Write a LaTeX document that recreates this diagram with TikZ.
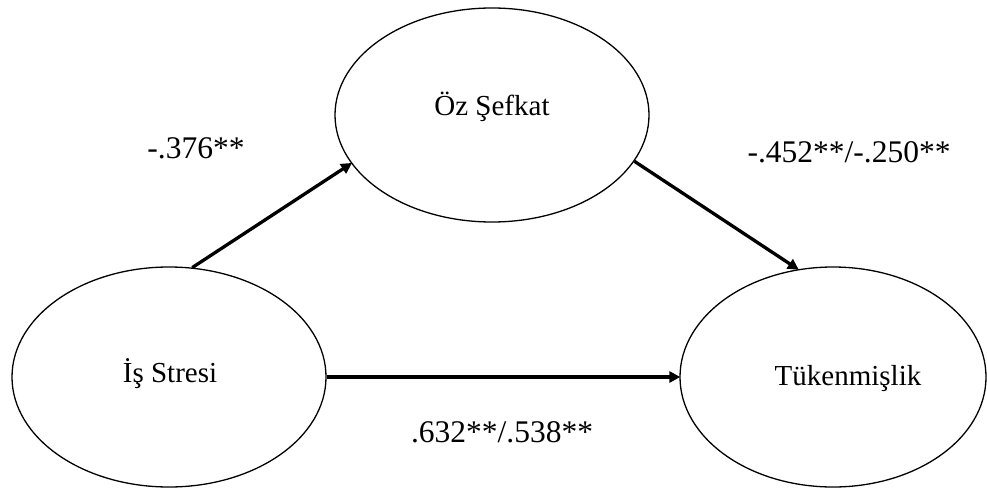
\documentclass[tikz,border=0pt]{standalone}
\usepackage{fontspec}
\setmainfont{Liberation Serif}
\usetikzlibrary{shapes.geometric,arrows.meta}
\tikzset{
  latent/.style={draw=black, line width=1.3pt, ellipse, inner sep=0pt, fill=white},
  nodetext/.style={anchor=base, inner sep=0pt, font=\fontsize{29}{34}\selectfont},
  coef/.style={anchor=base, inner sep=0pt, font=\fontsize{31.5}{36}\selectfont},
  path/.style={line width=3.3pt, -{Triangle[length=11pt,width=11pt]}, shorten >=-1pt}
}
\begin{document}
\begin{tikzpicture}[x=1pt,y=-1pt]
\useasboundingbox (0,0) rectangle (987,495);
\fill[white] (0,0) rectangle (987,495);
% ellipses
\node[latent, minimum width=314pt, minimum height=214pt] (oz) at (492,115) {};
\node[latent, minimum width=314pt, minimum height=220pt] (is) at (169,377) {};
\node[latent, minimum width=306pt, minimum height=220pt] (tk) at (833,377) {};
% texts
\node[nodetext] (oztxt) at (492,115) {Öz Şefkat};
\node[nodetext] (istxt) at (170,382) {İş Stresi};
\node[nodetext] (tktxt) at (848,385) {Tükenmişlik};
% paths
\draw[path] (is.78) -- (oz.199);
\draw[path] (oz.-18) -- (tk.108);
\draw[path] (is.east) -- (tk.west);
% coefficients
\node[coef] (c1) at (196,158) {-.376**};
\node[coef] (c2) at (849,162) {-.452**/-.250**};
\node[coef] (c3) at (502,442) {.632**/.538**};
\end{tikzpicture}
\end{document}
